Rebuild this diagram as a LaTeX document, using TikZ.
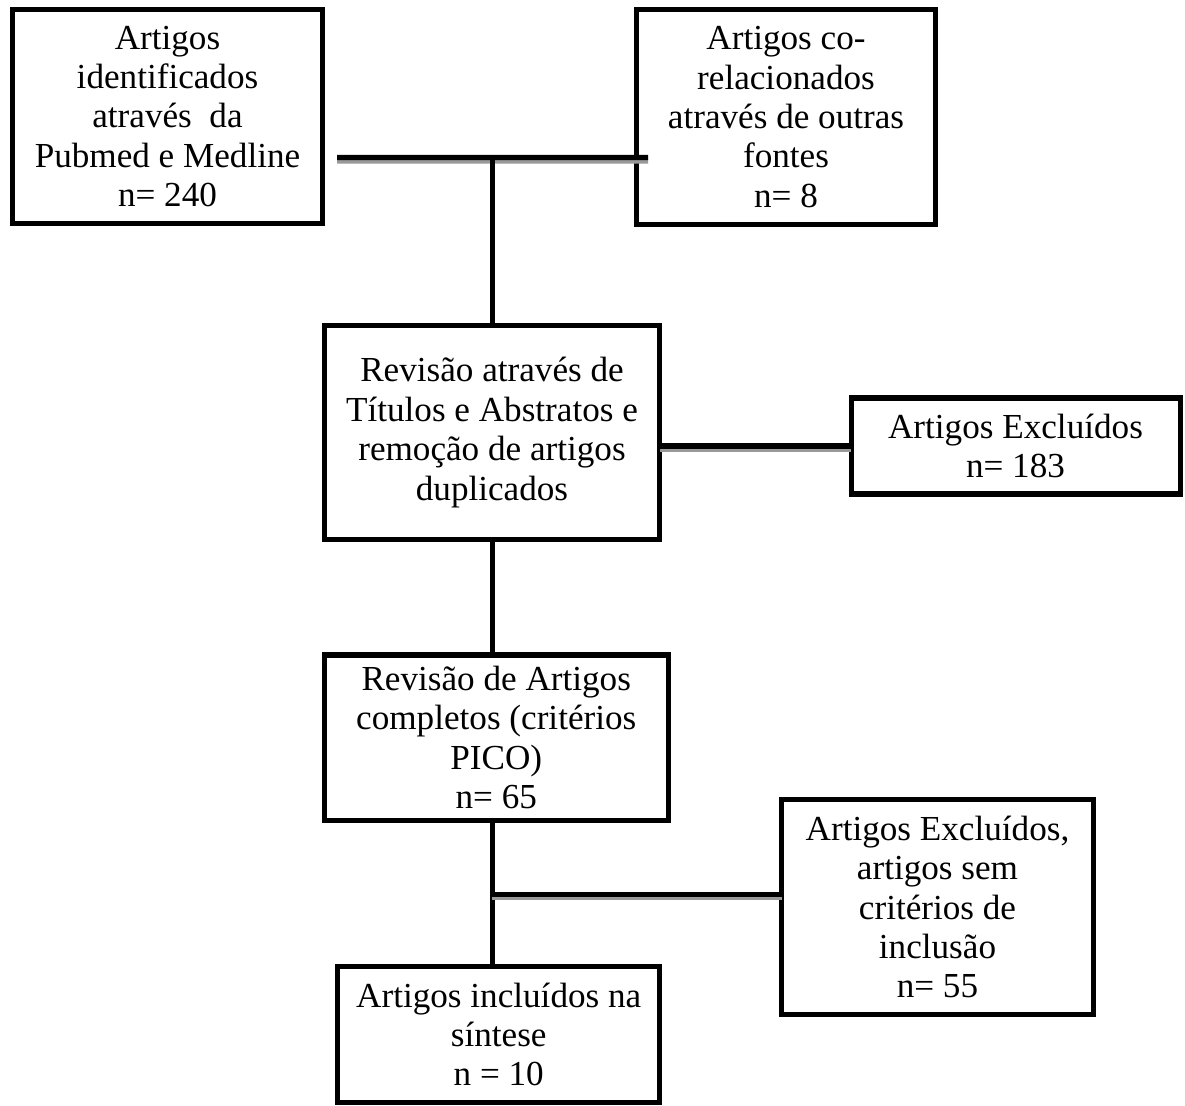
\documentclass[tikz,border=0pt]{standalone}
\usepackage{fontspec}
\setmainfont{Liberation Serif}
\usetikzlibrary{positioning}

\begin{document}
\begin{tikzpicture}[
        every node/.style={
            rectangle, draw=black, line width=2.85pt, fill=white,
            align=center, inner sep=0pt, outer sep=0pt,
            font=\fontsize{20}{22.4}\selectfont
        },
        link/.style={line width=2.85pt, color=black},
        hlink/.style={link, preaction={draw=black!40, line width=2.85pt, transform canvas={yshift=-0.07cm}}}
    ]
        \useasboundingbox (0,0) rectangle (23.7,-22.12);

        % Boxes
        \node (pub) [minimum width=6.2cm, minimum height=4.28cm] at (3.35,-2.33)
            {Artigos\\identificados\\através\ \ da\\Pubmed e Medline\\n= 240};
        \node (outras) [minimum width=5.98cm, minimum height=4.3cm, right=6.28cm of pub.north east, anchor=north west]
            {Artigos co-\\relacionados\\através de outras\\fontes\\n= 8};
        \node (rev) [minimum width=6.7cm, minimum height=4.28cm, below=2.04cm of pub.south east, anchor=north west, xshift=0.04cm]
            {Revisão através de\\Títulos e Abstratos e\\remoção de artigos\\duplicados};
        \node (excl1) [minimum width=6.58cm, minimum height=1.92cm, right=3.83cm of rev.east, yshift=-0.27cm]
            {Artigos Excluídos\\n= 183};
        \node (full) [minimum width=6.87cm, minimum height=3.3cm, below=2.31cm of rev.south west, anchor=north west]
            {Revisão de Artigos\\completos (critérios\\PICO)\\n= 65};
        \node (excl2) [minimum width=6.24cm, minimum height=4.3cm, right=2.27cm of full.east, yshift=-3.39cm]
            {Artigos Excluídos,\\artigos sem\\critérios de\\inclusão\\n= 55};
        \node (incl) [minimum width=6.44cm, minimum height=2.72cm, below=2.93cm of full.south, xshift=0.05cm]
            {Artigos incluídos na\\síntese\\n = 10};

        % Connectors
        \coordinate (tl) at ([xshift=0.29cm, yshift=-0.82cm]pub.east);
        \coordinate (tr) at ([xshift=0.23cm, yshift=-0.81cm]outras.west);
        \draw[hlink] (tl) -- (tr);
        \draw[link] (tl -| rev.north) -- (rev.north);
        \draw[hlink] (rev.east |- excl1.west) -- (excl1.west);
        \draw[link] (rev.south) -- (rev.south |- full.north);
        \draw[link] (rev.south |- full.south) -- (rev.south |- incl.north);
        \coordinate (fork) at ([yshift=0.26cm]excl2.west);
        \draw[hlink] (fork -| rev.south) -- (fork);

    \end{tikzpicture}
\end{document}
